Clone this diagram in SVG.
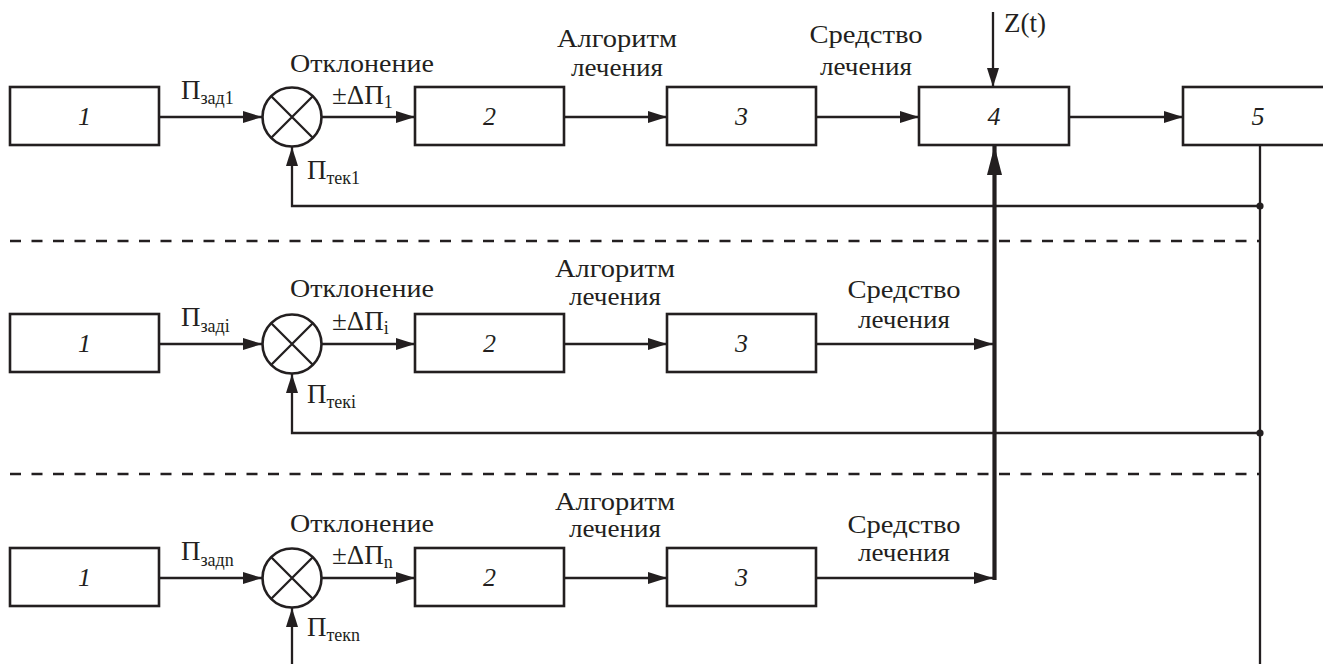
<svg xmlns="http://www.w3.org/2000/svg" width="1323" height="664" viewBox="0 0 1323 664">
<style>
.box{fill:#fff;stroke:#231f20;stroke-width:2.6}
.ln{fill:none;stroke:#231f20;stroke-width:2.3}
.thick{fill:none;stroke:#231f20;stroke-width:4.2}
.dash{fill:none;stroke:#231f20;stroke-width:2.3;stroke-dasharray:11 10.5}
text{font-family:'Liberation Serif','DejaVu Serif',serif;fill:#231f20}
.t{font-size:25px}
.p{font-size:27px}
.c{text-anchor:middle}
.n{font-size:26px;font-style:italic;text-anchor:middle}
.s{font-size:18px}
</style>
<defs>
<marker id="ah" markerUnits="userSpaceOnUse" markerWidth="20" markerHeight="14" refX="19" refY="6" orient="auto">
<path d="M0,0 L19,6 L0,12 Z" fill="#231f20"/>
</marker>
<marker id="ahb" markerUnits="userSpaceOnUse" markerWidth="30" markerHeight="16" refX="29" refY="7.5" orient="auto">
<path d="M0,0 L29,7.5 L0,15 Z" fill="#231f20"/>
</marker>
</defs>

<g id="separators">
<line class="dash" x1="10" y1="241" x2="1260" y2="241"/>
<line class="dash" x1="10" y1="474" x2="1260" y2="474"/>
</g>

<g id="connectors">
<line class="ln" x1="159" y1="117" x2="262" y2="117" marker-end="url(#ah)"/>
<line class="ln" x1="322" y1="117" x2="415" y2="117" marker-end="url(#ah)"/>
<line class="ln" x1="564" y1="117" x2="667" y2="117" marker-end="url(#ah)"/>
<line class="ln" x1="816" y1="117" x2="919" y2="117" marker-end="url(#ah)"/>
<line class="ln" x1="1069" y1="117" x2="1183" y2="117" marker-end="url(#ah)"/>
<line class="ln" x1="993" y1="12" x2="993" y2="87" marker-end="url(#ah)"/>
<path class="ln" d="M1260,206 H292 V147" marker-end="url(#ah)"/>
<line class="ln" x1="159" y1="344" x2="262" y2="344" marker-end="url(#ah)"/>
<line class="ln" x1="322" y1="344" x2="415" y2="344" marker-end="url(#ah)"/>
<line class="ln" x1="564" y1="344" x2="667" y2="344" marker-end="url(#ah)"/>
<line class="ln" x1="816" y1="344" x2="993" y2="344" marker-end="url(#ah)"/>
<path class="ln" d="M1260,433 H292 V374" marker-end="url(#ah)"/>
<line class="ln" x1="159" y1="578" x2="262" y2="578" marker-end="url(#ah)"/>
<line class="ln" x1="322" y1="578" x2="415" y2="578" marker-end="url(#ah)"/>
<line class="ln" x1="564" y1="578" x2="667" y2="578" marker-end="url(#ah)"/>
<line class="ln" x1="816" y1="578" x2="993" y2="578" marker-end="url(#ah)"/>
<path class="ln" d="M292,664 V608" marker-end="url(#ah)"/>
<line class="ln" x1="1260" y1="145" x2="1260" y2="664"/>
<circle cx="1260" cy="206" r="3.6" fill="#231f20"/>
<circle cx="1260" cy="433" r="3.6" fill="#231f20"/>
<line class="thick" x1="994.5" y1="580" x2="994.5" y2="146" marker-end="url(#ahb)"/>
</g>

<g id="row1">
<g id="r1-b1"><rect class="box" x="10" y="87" width="149" height="58"/><text class="n" x="84.5" y="125">1</text></g>
<g id="r1-sum"><circle class="box" cx="292" cy="117" r="29.5"/><path class="ln" d="M271,96 L313,138 M313,96 L271,138"/></g>
<g id="r1-b2"><rect class="box" x="415" y="87" width="149" height="58"/><text class="n" x="489.5" y="125">2</text></g>
<g id="r1-b3"><rect class="box" x="667" y="87" width="149" height="58"/><text class="n" x="741.5" y="125">3</text></g>
<g id="r1-b4"><rect class="box" x="919" y="87" width="150" height="58"/><text class="n" x="994" y="125">4</text></g>
<g id="r1-b5"><rect class="box" x="1183" y="87" width="150" height="58"/><text class="n" x="1258" y="125">5</text></g>
<text class="p" x="181" y="99">П<tspan class="s" dy="5">зад1</tspan></text>
<text class="t c" x="362" y="72" textLength="144" lengthAdjust="spacingAndGlyphs">Отклонение</text>
<text class="p" x="332" y="104">±ΔП<tspan class="s" dy="4">1</tspan></text>
<text class="p" x="307" y="179">П<tspan class="s" dy="5">тек1</tspan></text>
<text class="t c" x="617" y="47" textLength="120" lengthAdjust="spacingAndGlyphs">Алгоритм</text>
<text class="t c" x="617" y="76" textLength="92" lengthAdjust="spacingAndGlyphs">лечения</text>
<text class="t c" x="866" y="43" textLength="113" lengthAdjust="spacingAndGlyphs">Средство</text>
<text class="t c" x="866" y="75" textLength="92" lengthAdjust="spacingAndGlyphs">лечения</text>
<text class="p" x="1004" y="32">Z(t)</text>
</g>

<g id="row2">
<g id="r2-b1"><rect class="box" x="10" y="314" width="149" height="58"/><text class="n" x="84.5" y="352">1</text></g>
<g id="r2-sum"><circle class="box" cx="292" cy="344" r="29.5"/><path class="ln" d="M271,323 L313,365 M313,323 L271,365"/></g>
<g id="r2-b2"><rect class="box" x="415" y="314" width="149" height="58"/><text class="n" x="489.5" y="352">2</text></g>
<g id="r2-b3"><rect class="box" x="667" y="314" width="149" height="58"/><text class="n" x="741.5" y="352">3</text></g>
<text class="p" x="181" y="326">П<tspan class="s" dy="6">заді</tspan></text>
<text class="t c" x="362" y="297" textLength="144" lengthAdjust="spacingAndGlyphs">Отклонение</text>
<text class="p" x="332" y="330">±ΔП<tspan class="s" dy="4">i</tspan></text>
<text class="p" x="307" y="403">П<tspan class="s" dy="5">текi</tspan></text>
<text class="t c" x="615" y="277" textLength="120" lengthAdjust="spacingAndGlyphs">Алгоритм</text>
<text class="t c" x="615" y="305" textLength="92" lengthAdjust="spacingAndGlyphs">лечения</text>
<text class="t c" x="904" y="298" textLength="113" lengthAdjust="spacingAndGlyphs">Средство</text>
<text class="t c" x="904" y="328" textLength="92" lengthAdjust="spacingAndGlyphs">лечения</text>
</g>

<g id="row3">
<g id="r3-b1"><rect class="box" x="10" y="548" width="149" height="58"/><text class="n" x="84.5" y="586">1</text></g>
<g id="r3-sum"><circle class="box" cx="292" cy="578" r="29.5"/><path class="ln" d="M271,557 L313,599 M313,557 L271,599"/></g>
<g id="r3-b2"><rect class="box" x="415" y="548" width="149" height="58"/><text class="n" x="489.5" y="586">2</text></g>
<g id="r3-b3"><rect class="box" x="667" y="548" width="149" height="58"/><text class="n" x="741.5" y="586">3</text></g>
<text class="p" x="181" y="560">П<tspan class="s" dy="6">задn</tspan></text>
<text class="t c" x="362" y="532" textLength="144" lengthAdjust="spacingAndGlyphs">Отклонение</text>
<text class="p" x="332" y="564">±ΔП<tspan class="s" dy="4">n</tspan></text>
<text class="p" x="307" y="636">П<tspan class="s" dy="5">текn</tspan></text>
<text class="t c" x="615" y="510" textLength="120" lengthAdjust="spacingAndGlyphs">Алгоритм</text>
<text class="t c" x="615" y="537" textLength="92" lengthAdjust="spacingAndGlyphs">лечения</text>
<text class="t c" x="904" y="533" textLength="113" lengthAdjust="spacingAndGlyphs">Средство</text>
<text class="t c" x="904" y="561" textLength="92" lengthAdjust="spacingAndGlyphs">лечения</text>
</g>
</svg>
